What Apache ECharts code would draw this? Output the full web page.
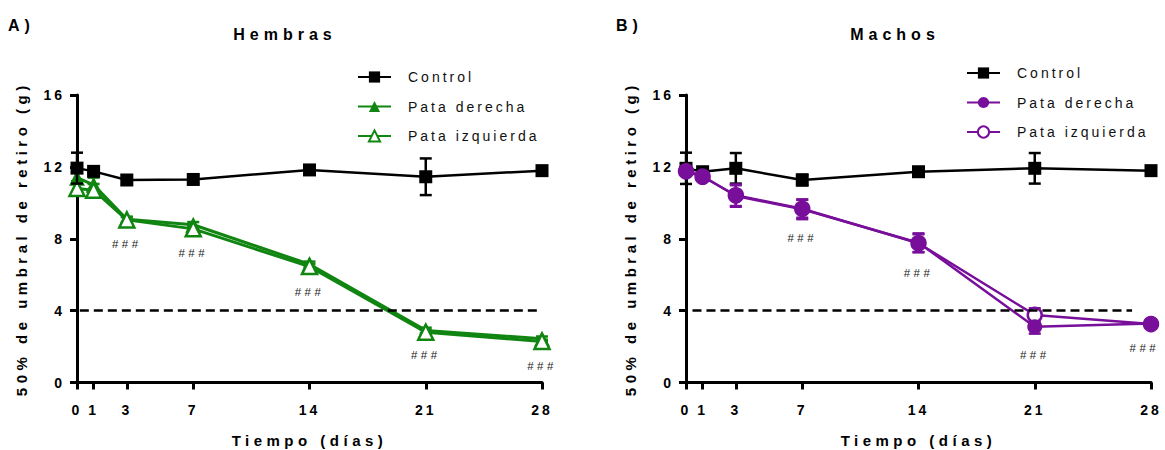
<!DOCTYPE html>
<html>
<head>
<meta charset="utf-8">
<script src="https://cdn.jsdelivr.net/npm/echarts@6.0.0/dist/echarts.min.js"></script>
<style>
html, body { margin: 0; padding: 0; background: #fff; }
#main { width: 1165px; height: 450px; }
/* letter spacing like the original figure */
#main text { letter-spacing: 3px; }
#main text[style*="16px"] { letter-spacing: 5px; }
#main text[style*="15px"] { letter-spacing: 4.5px; }
#main text[style*="11.5px"] { letter-spacing: 3.5px; }
</style>
</head>
<body>
<div id="main"></div>
<script>
var FONT = 'Liberation Sans, Arial, sans-serif';

// dias de medicion
var days = [0, 1, 3, 7, 14, 21, 28];
var dayTicks = [0, 1, 3, 7, 14, 21, 28];

// Hembras
var hControl = [11.93, 11.75, 11.27, 11.3, 11.83, 11.45, 11.79];
var hControlErr = [0.86, 0.15, 0.25, 0.25, 0.12, 1.02, 0.1];
var hDerecha = [11.4, 11.0, 9.08, 8.78, 6.58, 2.9, 2.44];
var hDerechaErr = [0.3, 0.4, 0.15, 0.15, 0.15, 0.15, 0.12];
var hIzquierda = [10.8, 10.7, 9.05, 8.55, 6.45, 2.8, 2.28];
var hIzquierdaErr = [0.4, 0.35, 0.15, 0.15, 0.15, 0.12, 0.1];
var hMarkX = [3, 7, 14, 21, 28];
var hMarkY = [7.7, 7.2, 5.05, 1.55, 0.92];
var hDash = [0.17, 27.85];

// Machos
var mControl = [11.92, 11.73, 11.92, 11.27, 11.73, 11.92, 11.79];
var mControlErr = [0.87, 0.12, 0.85, 0.3, 0.12, 0.85, 0.1];
var mDerecha = [11.79, 11.49, 10.38, 9.64, 7.78, 3.1, 3.29];
var mDerechaErr = [0.2, 0.15, 0.6, 0.55, 0.52, 0.38, 0.12];
var mIzquierda = [11.75, 11.45, 10.42, 9.67, 7.75, 3.76, 3.25];
var mIzquierdaErr = [0.2, 0.15, 0.6, 0.5, 0.5, 0.37, 0.12];
var mMarkX = [7, 14, 21, 27.6];
var mMarkY = [8.05, 6.1, 1.55, 1.92];
var mDash = [0.39, 26.86];

var threshold = 4;
var GREEN = '#118511';
var PURPLE = '#780f9a';
var BLACK = '#000';

function pairs(vals) {
    return days.map(function (d, i) { return [d, vals[i]]; });
}

function lineSeries(name, vals, color, symbol, size, open, idx, z, width) {
    return {
        name: name,
        type: 'line',
        xAxisIndex: idx,
        yAxisIndex: idx,
        z: z,
        data: pairs(vals),
        symbol: symbol,
        symbolSize: size,
        lineStyle: {color: color, width: width || 2.5},
        itemStyle: open ? {color: '#fff', borderColor: color, borderWidth: 2.5}
                        : {color: color, borderColor: color, borderWidth: 0},
        emphasis: {disabled: true}
    };
}

function errSeries(vals, err, color, idx, z) {
    return {
        type: 'custom',
        xAxisIndex: idx,
        yAxisIndex: idx,
        z: z,
        silent: true,
        encode: {x: 0, y: [1, 2]},
        data: days.map(function (d, i) { return [d, vals[i] - err[i], vals[i] + err[i]]; }),
        renderItem: function (params, api) {
            var lo = api.coord([api.value(0), api.value(1)]);
            var hi = api.coord([api.value(0), api.value(2)]);
            var st = {stroke: color, lineWidth: 2.5};
            return {
                type: 'group',
                children: [
                    {type: 'line', shape: {x1: lo[0], y1: lo[1], x2: hi[0], y2: hi[1]}, style: st},
                    {type: 'line', shape: {x1: lo[0] - 6, y1: lo[1], x2: lo[0] + 6, y2: lo[1]}, style: st},
                    {type: 'line', shape: {x1: hi[0] - 6, y1: hi[1], x2: hi[0] + 6, y2: hi[1]}, style: st}
                ]
            };
        }
    };
}

function markSeries(xs, ys, idx) {
    return {
        type: 'custom',
        xAxisIndex: idx,
        yAxisIndex: idx,
        z: 5,
        silent: true,
        data: xs.map(function (x, i) { return [x, ys[i]]; }),
        renderItem: function (params, api) {
            var p = api.coord([api.value(0), api.value(1)]);
            return {
                type: 'text',
                x: p[0],
                y: p[1],
                style: {text: '###', align: 'center', verticalAlign: 'middle',
                        fontSize: 11.5, fontFamily: FONT, fill: '#222'}
            };
        }
    };
}

function dashLine(range) {
    return {
        silent: true,
        symbol: 'none',
        label: {show: false},
        lineStyle: {color: BLACK, width: 2.5, type: [9, 5]},
        data: [[{coord: [range[0], threshold]}, {coord: [range[1], threshold]}]]
    };
}

function xAxisOpt(idx) {
    return {
        type: 'value', gridIndex: idx, min: 0, max: 28,
        name: 'Tiempo (días)', nameLocation: 'middle', nameGap: 50,
        nameTextStyle: {fontSize: 15, fontWeight: 'bold', color: '#000', fontFamily: FONT},
        axisLine: {lineStyle: {color: BLACK, width: 3}},
        axisTick: {show: true, length: 7, lineStyle: {color: BLACK, width: 3}, customValues: dayTicks},
        axisLabel: {fontSize: 14, fontWeight: 'bold', color: '#000', fontFamily: FONT, margin: 20, customValues: dayTicks},
        splitLine: {show: false}
    };
}

function yAxisOpt(idx) {
    return {
        type: 'value', gridIndex: idx, min: 0, max: 16, interval: 4,
        name: '50% de umbral de retiro (g)', nameLocation: 'middle', nameGap: 48,
        nameTextStyle: {fontSize: 15, fontWeight: 'bold', color: '#000', fontFamily: FONT},
        axisLine: {show: true, lineStyle: {color: BLACK, width: 3}},
        axisTick: {show: true, length: 7, lineStyle: {color: BLACK, width: 3}},
        axisLabel: {fontSize: 14, fontWeight: 'bold', color: '#000', fontFamily: FONT, margin: 12},
        splitLine: {show: false}
    };
}

function legendOpt(prefix, left, top) {
    return {
        data: [prefix + '|Control', prefix + '|Pata derecha', prefix + '|Pata izquierda'],
        orient: 'vertical', left: left, top: top, padding: 0,
        itemWidth: 33, itemHeight: 14, itemGap: 15.5,
        selectedMode: false,
        formatter: function (n) { return n.split('|')[1]; },
        textStyle: {fontSize: 14, color: '#111', fontFamily: FONT, padding: [0, 0, 0, 12]}
    };
}

var hCtrl = lineSeries('A|Control', hControl, BLACK, 'rect', 13, false, 0, 4);
hCtrl.markLine = dashLine(hDash);
var mCtrl = lineSeries('B|Control', mControl, BLACK, 'rect', 13, false, 1, 2);
mCtrl.markLine = dashLine(mDash);

var option = {
    animation: false,
    backgroundColor: '#fff',
    textStyle: {fontFamily: FONT},
    title: [
        {text: 'A)', left: 8, top: 17, padding: 0, textStyle: {fontSize: 16, fontWeight: 'bold', color: '#000', fontFamily: FONT}},
        {text: 'B)', left: 616, top: 17, padding: 0, textStyle: {fontSize: 16, fontWeight: 'bold', color: '#000', fontFamily: FONT}},
        {text: 'Hembras', left: 285, top: 26, textAlign: 'center', padding: 0, textStyle: {fontSize: 16, fontWeight: 'bold', color: '#000', fontFamily: FONT}},
        {text: 'Machos', left: 895, top: 26, textAlign: 'center', padding: 0, textStyle: {fontSize: 16, fontWeight: 'bold', color: '#000', fontFamily: FONT}}
    ],
    legend: [legendOpt('A', 357, 70), legendOpt('B', 966, 66)],
    grid: [
        {left: 77, top: 95, width: 465, height: 287.5, outerBoundsMode: 'none'},
        {left: 686, top: 95, width: 465, height: 287.5, outerBoundsMode: 'none'}
    ],
    xAxis: [xAxisOpt(0), xAxisOpt(1)],
    yAxis: [yAxisOpt(0), yAxisOpt(1)],
    series: [
        // Hembras
        errSeries(hDerecha, hDerechaErr, GREEN, 0, 2),
        errSeries(hIzquierda, hIzquierdaErr, GREEN, 0, 2),
        lineSeries('A|Pata derecha', hDerecha, GREEN, 'triangle', 16, false, 0, 2, 3),
        lineSeries('A|Pata izquierda', hIzquierda, GREEN, 'triangle', 15, true, 0, 3, 3),
        errSeries(hControl, hControlErr, BLACK, 0, 4),
        hCtrl,
        markSeries(hMarkX, hMarkY, 0),
        // Machos
        errSeries(mControl, mControlErr, BLACK, 1, 2),
        mCtrl,
        errSeries(mDerecha, mDerechaErr, PURPLE, 1, 3),
        errSeries(mIzquierda, mIzquierdaErr, PURPLE, 1, 3),
        lineSeries('B|Pata izquierda', mIzquierda, PURPLE, 'circle', 14, true, 1, 3),
        lineSeries('B|Pata derecha', mDerecha, PURPLE, 'circle', 15, false, 1, 3),
        markSeries(mMarkX, mMarkY, 1)
    ]
};

var chart = echarts.init(document.getElementById('main'), null, {renderer: 'svg'});
chart.setOption(option);
</script>
</body>
</html>
